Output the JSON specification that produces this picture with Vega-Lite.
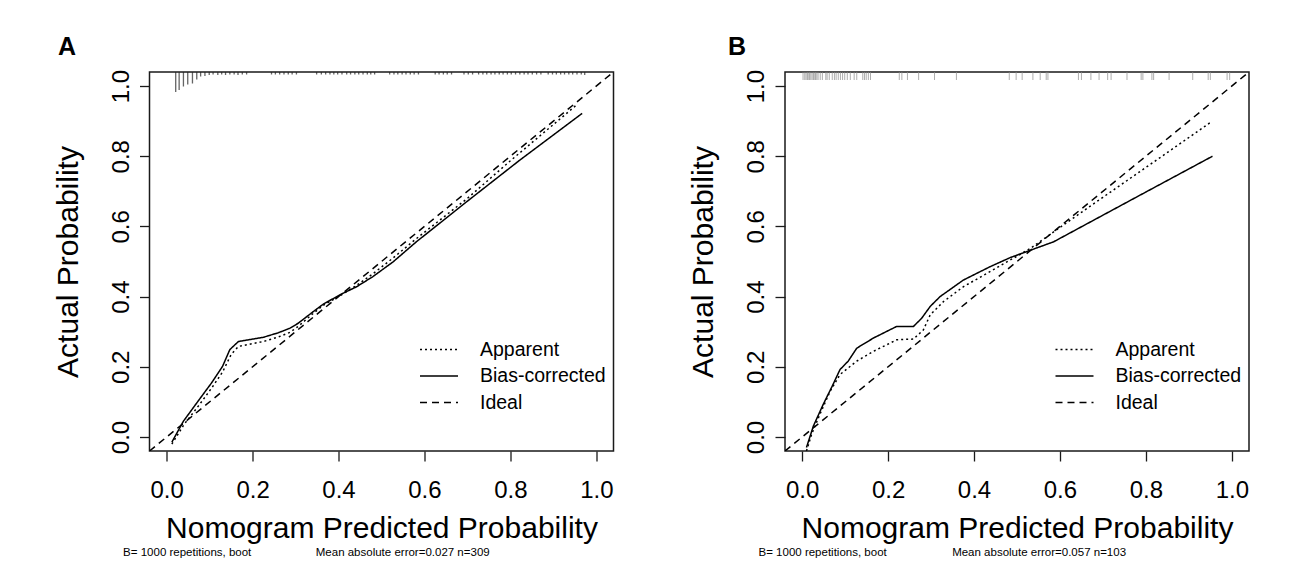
{
  "$schema": "https://vega.github.io/schema/vega-lite/v6.json",
  "background": "white",
  "padding": {"left": 51.5, "top": 34, "right": 5, "bottom": 5},
  "bounds": "flush",
  "spacing": 171.5,
  "resolve": {"scale": {"strokeDash": "independent", "size": "independent", "x": "independent", "y": "independent"}, "legend": {"strokeDash": "independent"}},
  "datasets": {
    "linesA": [
      {"series": "Ideal", "p": -0.04, "obs": -0.04},
      {"series": "Ideal", "p": 1.04, "obs": 1.04},
      {"series": "Bias-corrected", "p": 0.012, "obs": -0.015},
      {"series": "Bias-corrected", "p": 0.039, "obs": 0.045},
      {"series": "Bias-corrected", "p": 0.073, "obs": 0.102},
      {"series": "Bias-corrected", "p": 0.105, "obs": 0.155},
      {"series": "Bias-corrected", "p": 0.13, "obs": 0.201},
      {"series": "Bias-corrected", "p": 0.147, "obs": 0.249},
      {"series": "Bias-corrected", "p": 0.167, "obs": 0.272},
      {"series": "Bias-corrected", "p": 0.225, "obs": 0.284},
      {"series": "Bias-corrected", "p": 0.26, "obs": 0.297},
      {"series": "Bias-corrected", "p": 0.287, "obs": 0.31},
      {"series": "Bias-corrected", "p": 0.306, "obs": 0.324},
      {"series": "Bias-corrected", "p": 0.341, "obs": 0.357},
      {"series": "Bias-corrected", "p": 0.364, "obs": 0.378},
      {"series": "Bias-corrected", "p": 0.403, "obs": 0.405},
      {"series": "Bias-corrected", "p": 0.442, "obs": 0.428},
      {"series": "Bias-corrected", "p": 0.48, "obs": 0.457},
      {"series": "Bias-corrected", "p": 0.527, "obs": 0.499},
      {"series": "Bias-corrected", "p": 0.581, "obs": 0.556},
      {"series": "Bias-corrected", "p": 0.7, "obs": 0.672},
      {"series": "Bias-corrected", "p": 0.822, "obs": 0.789},
      {"series": "Bias-corrected", "p": 0.967, "obs": 0.922},
      {"series": "Apparent", "p": 0.012, "obs": -0.02},
      {"series": "Apparent", "p": 0.04, "obs": 0.035},
      {"series": "Apparent", "p": 0.075, "obs": 0.09},
      {"series": "Apparent", "p": 0.105, "obs": 0.14},
      {"series": "Apparent", "p": 0.13, "obs": 0.185},
      {"series": "Apparent", "p": 0.15, "obs": 0.235},
      {"series": "Apparent", "p": 0.167, "obs": 0.258},
      {"series": "Apparent", "p": 0.225, "obs": 0.272},
      {"series": "Apparent", "p": 0.26, "obs": 0.285},
      {"series": "Apparent", "p": 0.287, "obs": 0.298},
      {"series": "Apparent", "p": 0.306, "obs": 0.315},
      {"series": "Apparent", "p": 0.341, "obs": 0.352},
      {"series": "Apparent", "p": 0.364, "obs": 0.375},
      {"series": "Apparent", "p": 0.403, "obs": 0.402},
      {"series": "Apparent", "p": 0.442, "obs": 0.432},
      {"series": "Apparent", "p": 0.48, "obs": 0.465},
      {"series": "Apparent", "p": 0.527, "obs": 0.51},
      {"series": "Apparent", "p": 0.581, "obs": 0.565},
      {"series": "Apparent", "p": 0.7, "obs": 0.68},
      {"series": "Apparent", "p": 0.8, "obs": 0.787},
      {"series": "Apparent", "p": 0.953, "obs": 0.945}
    ],
    "linesB": [
      {"series": "Ideal", "p": -0.04, "obs": -0.04},
      {"series": "Ideal", "p": 1.04, "obs": 1.04},
      {"series": "Bias-corrected", "p": 0.01, "obs": -0.03},
      {"series": "Bias-corrected", "p": 0.026, "obs": 0.031},
      {"series": "Bias-corrected", "p": 0.049, "obs": 0.093},
      {"series": "Bias-corrected", "p": 0.07, "obs": 0.145},
      {"series": "Bias-corrected", "p": 0.088, "obs": 0.192},
      {"series": "Bias-corrected", "p": 0.107, "obs": 0.216},
      {"series": "Bias-corrected", "p": 0.127, "obs": 0.253},
      {"series": "Bias-corrected", "p": 0.166, "obs": 0.282},
      {"series": "Bias-corrected", "p": 0.22, "obs": 0.315},
      {"series": "Bias-corrected", "p": 0.259, "obs": 0.315},
      {"series": "Bias-corrected", "p": 0.278, "obs": 0.338},
      {"series": "Bias-corrected", "p": 0.298, "obs": 0.372},
      {"series": "Bias-corrected", "p": 0.321, "obs": 0.4},
      {"series": "Bias-corrected", "p": 0.375, "obs": 0.447},
      {"series": "Bias-corrected", "p": 0.437, "obs": 0.485},
      {"series": "Bias-corrected", "p": 0.484, "obs": 0.511},
      {"series": "Bias-corrected", "p": 0.531, "obs": 0.532},
      {"series": "Bias-corrected", "p": 0.585, "obs": 0.556},
      {"series": "Bias-corrected", "p": 0.7, "obs": 0.632},
      {"series": "Bias-corrected", "p": 0.8, "obs": 0.698},
      {"series": "Bias-corrected", "p": 0.955, "obs": 0.8},
      {"series": "Apparent", "p": 0.01, "obs": -0.04},
      {"series": "Apparent", "p": 0.022, "obs": 0.008},
      {"series": "Apparent", "p": 0.041, "obs": 0.064},
      {"series": "Apparent", "p": 0.065, "obs": 0.13},
      {"series": "Apparent", "p": 0.088, "obs": 0.178},
      {"series": "Apparent", "p": 0.127, "obs": 0.216},
      {"series": "Apparent", "p": 0.166, "obs": 0.244},
      {"series": "Apparent", "p": 0.22, "obs": 0.277},
      {"series": "Apparent", "p": 0.259, "obs": 0.279},
      {"series": "Apparent", "p": 0.282, "obs": 0.305},
      {"series": "Apparent", "p": 0.298, "obs": 0.348},
      {"series": "Apparent", "p": 0.329, "obs": 0.386},
      {"series": "Apparent", "p": 0.375, "obs": 0.428},
      {"series": "Apparent", "p": 0.437, "obs": 0.471},
      {"series": "Apparent", "p": 0.484, "obs": 0.504},
      {"series": "Apparent", "p": 0.531, "obs": 0.537},
      {"series": "Apparent", "p": 0.6, "obs": 0.597},
      {"series": "Apparent", "p": 0.7, "obs": 0.683},
      {"series": "Apparent", "p": 0.8, "obs": 0.768},
      {"series": "Apparent", "p": 0.95, "obs": 0.896}
    ],
    "rugA": [
      {"p": 0.021, "n": 40}, {"p": 0.029, "n": 36}, {"p": 0.039, "n": 29}, {"p": 0.049, "n": 25},
      {"p": 0.06, "n": 23}, {"p": 0.07, "n": 15}, {"p": 0.079, "n": 9}, {"p": 0.089, "n": 8},
      {"p": 0.099, "n": 6}, {"p": 0.108, "n": 5},
      {"p": 0.119, "n": 6}, {"p": 0.128, "n": 5}, {"p": 0.137, "n": 6}, {"p": 0.147, "n": 5},
      {"p": 0.157, "n": 5}, {"p": 0.166, "n": 6}, {"p": 0.176, "n": 5}, {"p": 0.186, "n": 5},
      {"p": 0.244, "n": 5}, {"p": 0.253, "n": 5}, {"p": 0.263, "n": 5}, {"p": 0.273, "n": 5},
      {"p": 0.283, "n": 5}, {"p": 0.292, "n": 5}, {"p": 0.302, "n": 5},
      {"p": 0.349, "n": 5}, {"p": 0.36, "n": 5}, {"p": 0.37, "n": 5}, {"p": 0.38, "n": 5},
      {"p": 0.389, "n": 5}, {"p": 0.398, "n": 5}, {"p": 0.408, "n": 5}, {"p": 0.419, "n": 5},
      {"p": 0.428, "n": 5}, {"p": 0.438, "n": 5}, {"p": 0.447, "n": 5}, {"p": 0.457, "n": 5},
      {"p": 0.467, "n": 5}, {"p": 0.475, "n": 5}, {"p": 0.484, "n": 5},
      {"p": 0.519, "n": 5}, {"p": 0.529, "n": 5}, {"p": 0.538, "n": 5}, {"p": 0.548, "n": 5},
      {"p": 0.557, "n": 5}, {"p": 0.567, "n": 5}, {"p": 0.576, "n": 5}, {"p": 0.586, "n": 5},
      {"p": 0.625, "n": 5}, {"p": 0.634, "n": 5}, {"p": 0.644, "n": 5}, {"p": 0.653, "n": 5},
      {"p": 0.663, "n": 5}, {"p": 0.692, "n": 5}, {"p": 0.702, "n": 5}, {"p": 0.712, "n": 5},
      {"p": 0.726, "n": 5}, {"p": 0.736, "n": 5}, {"p": 0.745, "n": 5}, {"p": 0.755, "n": 5},
      {"p": 0.764, "n": 5}, {"p": 0.774, "n": 5}, {"p": 0.783, "n": 5}, {"p": 0.793, "n": 5},
      {"p": 0.802, "n": 5}, {"p": 0.812, "n": 5}, {"p": 0.822, "n": 5}, {"p": 0.832, "n": 5},
      {"p": 0.841, "n": 5}, {"p": 0.851, "n": 5}, {"p": 0.861, "n": 5}, {"p": 0.871, "n": 5},
      {"p": 0.888, "n": 5}, {"p": 0.898, "n": 5}, {"p": 0.907, "n": 5}, {"p": 0.917, "n": 5},
      {"p": 0.926, "n": 5}, {"p": 0.936, "n": 5}, {"p": 0.945, "n": 5}, {"p": 0.955, "n": 5},
      {"p": 0.965, "n": 5}, {"p": 0.973, "n": 6}
    ],
    "rugB": [
      {"p": 0.002}, {"p": 0.006}, {"p": 0.009}, {"p": 0.012}, {"p": 0.014}, {"p": 0.017},
      {"p": 0.02}, {"p": 0.023}, {"p": 0.026}, {"p": 0.028}, {"p": 0.031}, {"p": 0.034},
      {"p": 0.037}, {"p": 0.042}, {"p": 0.047}, {"p": 0.055}, {"p": 0.058}, {"p": 0.063},
      {"p": 0.07}, {"p": 0.075}, {"p": 0.079}, {"p": 0.084}, {"p": 0.089}, {"p": 0.094},
      {"p": 0.099}, {"p": 0.105}, {"p": 0.112}, {"p": 0.121}, {"p": 0.127}, {"p": 0.141},
      {"p": 0.145}, {"p": 0.149}, {"p": 0.154}, {"p": 0.159}, {"p": 0.226}, {"p": 0.232},
      {"p": 0.245}, {"p": 0.271}, {"p": 0.308}, {"p": 0.359}, {"p": 0.482}, {"p": 0.498},
      {"p": 0.512}, {"p": 0.537}, {"p": 0.554}, {"p": 0.568}, {"p": 0.572}, {"p": 0.643},
      {"p": 0.65}, {"p": 0.672}, {"p": 0.691}, {"p": 0.711}, {"p": 0.719}, {"p": 0.756},
      {"p": 0.789}, {"p": 0.793}, {"p": 0.814}, {"p": 0.818}, {"p": 0.854}, {"p": 0.909},
      {"p": 0.945}, {"p": 0.95}, {"p": 0.989}, {"p": 0.995}
    ]
  },
  "hconcat": [
    {
      "width": 464,
      "height": 379,
      "title": {"text": "A", "anchor": "start", "frame": "group", "fontSize": 25, "fontWeight": "bold", "font": "Liberation Sans", "color": "black", "baseline": "alphabetic", "offset": -11, "dx": -91.5},
      "layer": [
        {
          "data": {"name": "linesA"},
          "mark": {"type": "line", "color": "black", "strokeWidth": 1.5, "clip": true},
          "encoding": {
            "x": {"field": "p", "type": "quantitative", "scale": {"domain": [-0.04, 1.04], "nice": false, "zero": false}, "title": "Nomogram Predicted Probability", "axis": {"values": [0, 0.2, 0.4, 0.6, 0.8, 1]}},
            "y": {"field": "obs", "type": "quantitative", "scale": {"domain": [-0.04, 1.04], "nice": false, "zero": false}, "title": "Actual Probability", "axis": {"values": [0, 0.2, 0.4, 0.6, 0.8, 1]}},
            "strokeDash": {"field": "series", "type": "nominal", "scale": {"domain": ["Apparent", "Bias-corrected", "Ideal"], "range": [[2, 3], [1, 0], [7, 5]]}, "legend": {}}
          }
        },
        {
          "data": {"name": "rugA"},
          "mark": {"type": "tick", "orient": "vertical", "color": "#222", "thickness": 1.3, "clip": true},
          "encoding": {
            "x": {"field": "p", "type": "quantitative", "title": "Nomogram Predicted Probability", "axis": {"values": [0, 0.2, 0.4, 0.6, 0.8, 1]}},
            "y": {"datum": 1.04, "title": "Actual Probability", "axis": {"values": [0, 0.2, 0.4, 0.6, 0.8, 1]}},
            "size": {"field": "n", "type": "quantitative", "scale": {"domain": [0, 40], "range": [0, 40]}, "legend": null}
          }
        },
        {
          "data": {"values": [{}]},
          "mark": {"type": "text", "text": "B= 1000 repetitions, boot", "align": "left", "baseline": "alphabetic", "fontSize": 11.5, "font": "Liberation Sans", "color": "black"},
          "encoding": {"x": {"datum": -0.1014, "title": "Nomogram Predicted Probability", "axis": {"values": [0, 0.2, 0.4, 0.6, 0.8, 1]}}, "y": {"datum": -0.338, "title": "Actual Probability", "axis": {"values": [0, 0.2, 0.4, 0.6, 0.8, 1]}}}
        },
        {
          "data": {"values": [{}]},
          "mark": {"type": "text", "text": "Mean absolute error=0.027 n=309", "align": "left", "baseline": "alphabetic", "fontSize": 11.5, "font": "Liberation Sans", "color": "black"},
          "encoding": {"x": {"datum": 0.347, "title": "Nomogram Predicted Probability", "axis": {"values": [0, 0.2, 0.4, 0.6, 0.8, 1]}}, "y": {"datum": -0.338, "title": "Actual Probability", "axis": {"values": [0, 0.2, 0.4, 0.6, 0.8, 1]}}}
        }
      ]
    },
    {
      "width": 464,
      "height": 379,
      "title": {"text": "B", "anchor": "start", "frame": "group", "fontSize": 25, "fontWeight": "bold", "font": "Liberation Sans", "color": "black", "baseline": "alphabetic", "offset": -11, "dx": -57},
      "layer": [
        {
          "data": {"name": "linesB"},
          "mark": {"type": "line", "color": "black", "strokeWidth": 1.5, "clip": true},
          "encoding": {
            "x": {"field": "p", "type": "quantitative", "scale": {"domain": [-0.04, 1.04], "nice": false, "zero": false}, "title": "Nomogram Predicted Probability", "axis": {"values": [0, 0.2, 0.4, 0.6, 0.8, 1]}},
            "y": {"field": "obs", "type": "quantitative", "scale": {"domain": [-0.04, 1.04], "nice": false, "zero": false}, "title": "Actual Probability", "axis": {"values": [0, 0.2, 0.4, 0.6, 0.8, 1]}},
            "strokeDash": {"field": "series", "type": "nominal", "scale": {"domain": ["Apparent", "Bias-corrected", "Ideal"], "range": [[2, 3], [1, 0], [7, 5]]}, "legend": {}}
          }
        },
        {
          "data": {"name": "rugB"},
          "mark": {"type": "tick", "orient": "vertical", "color": "#8a8a8a", "thickness": 1, "clip": true},
          "encoding": {
            "x": {"field": "p", "type": "quantitative", "title": "Nomogram Predicted Probability", "axis": {"values": [0, 0.2, 0.4, 0.6, 0.8, 1]}},
            "y": {"datum": 1.04, "title": "Actual Probability", "axis": {"values": [0, 0.2, 0.4, 0.6, 0.8, 1]}},
            "size": {"value": 16}
          }
        },
        {
          "data": {"values": [{}]},
          "mark": {"type": "text", "text": "B= 1000 repetitions, boot", "align": "left", "baseline": "alphabetic", "fontSize": 11.5, "font": "Liberation Sans", "color": "black"},
          "encoding": {"x": {"datum": -0.1016, "title": "Nomogram Predicted Probability", "axis": {"values": [0, 0.2, 0.4, 0.6, 0.8, 1]}}, "y": {"datum": -0.338, "title": "Actual Probability", "axis": {"values": [0, 0.2, 0.4, 0.6, 0.8, 1]}}}
        },
        {
          "data": {"values": [{}]},
          "mark": {"type": "text", "text": "Mean absolute error=0.057 n=103", "align": "left", "baseline": "alphabetic", "fontSize": 11.5, "font": "Liberation Sans", "color": "black"},
          "encoding": {"x": {"datum": 0.349, "title": "Nomogram Predicted Probability", "axis": {"values": [0, 0.2, 0.4, 0.6, 0.8, 1]}}, "y": {"datum": -0.338, "title": "Actual Probability", "axis": {"values": [0, 0.2, 0.4, 0.6, 0.8, 1]}}}
        }
      ]
    }
  ],
  "config": {
    "font": "Liberation Sans",
    "view": {"stroke": "#1a1a1a", "strokeWidth": 1.5},
    "axis": {
      "format": ".1f",
      "domain": false,
      "grid": false,
      "ticks": true,
      "tickSize": 10,
      "tickColor": "#1a1a1a",
      "tickWidth": 1.3,
      "labelFont": "Liberation Sans",
      "labelFontSize": 24,
      "labelColor": "black",
      "labelFlush": false,
      "labelOverlap": false,
      "labelBound": false,
      "titleFont": "Liberation Sans",
      "titleFontSize": 30,
      "titleFontWeight": "normal",
      "titleColor": "black"
    },
    "axisX": {"labelBaseline": "alphabetic", "labelPadding": 36, "titleBaseline": "alphabetic", "titleY": 86, "titleX": 232, "titleAlign": "center"},
    "axisY": {"labelAngle": 270, "labelAlign": "center", "labelBaseline": "alphabetic", "labelPadding": 11.5, "titleAngle": 270, "titleBaseline": "alphabetic", "titleX": -72.5, "titleY": 189.5, "titleAlign": "center"},
    "legend": {
      "orient": "none",
      "legendX": 279,
      "legendY": 267,
      "title": null,
      "symbolType": "M-2,0H2",
      "symbolSize": 361,
      "symbolStrokeWidth": 1.5,
      "symbolStrokeColor": "black",
      "symbolFillColor": "transparent",
      "labelFont": "Liberation Sans",
      "labelFontSize": 19.5,
      "labelColor": "black",
      "labelOffset": 30.5,
      "rowPadding": 6.5,
      "padding": 0
    }
  }
}
